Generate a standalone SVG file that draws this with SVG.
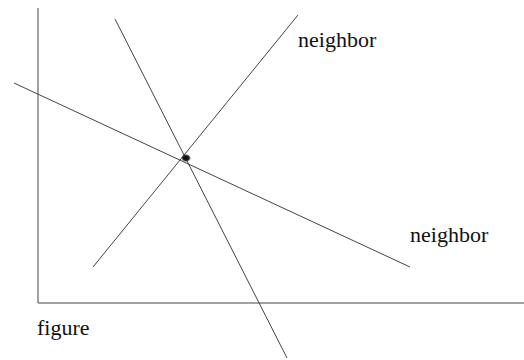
<svg xmlns="http://www.w3.org/2000/svg" width="524" height="360" viewBox="0 0 524 360">
<style>
.ln{stroke:#444;stroke-width:1;fill:none}
.t{font-family:'Liberation Serif','Times New Roman',serif;font-size:22px;fill:#111}
</style>
<defs>
<radialGradient id="dot"><stop offset="0" stop-color="#000"/><stop offset="0.6" stop-color="#222"/><stop offset="1" stop-color="#000" stop-opacity="0"/></radialGradient>
</defs>
<rect width="524" height="360" fill="#fff"/>
<g id="axes">
<line class="ln" x1="38" y1="8" x2="38" y2="303"/>
<line class="ln" x1="38" y1="303" x2="524" y2="303"/>
</g>
<g id="connectors">
<line class="ln" x1="115" y1="19" x2="287" y2="358"/>
<line class="ln" x1="93" y1="267" x2="298" y2="15"/>
<line class="ln" x1="14" y1="83" x2="410" y2="267"/>
</g>
<g id="point">
<ellipse cx="186" cy="158" rx="5" ry="4" fill="url(#dot)"/>
</g>
<g id="neighbor1"><text class="t" x="298" y="47">neighbor</text></g>
<g id="neighbor2"><text class="t" x="410" y="242">neighbor</text></g>
<g id="figure"><text class="t" x="37" y="335">figure</text></g>
</svg>
